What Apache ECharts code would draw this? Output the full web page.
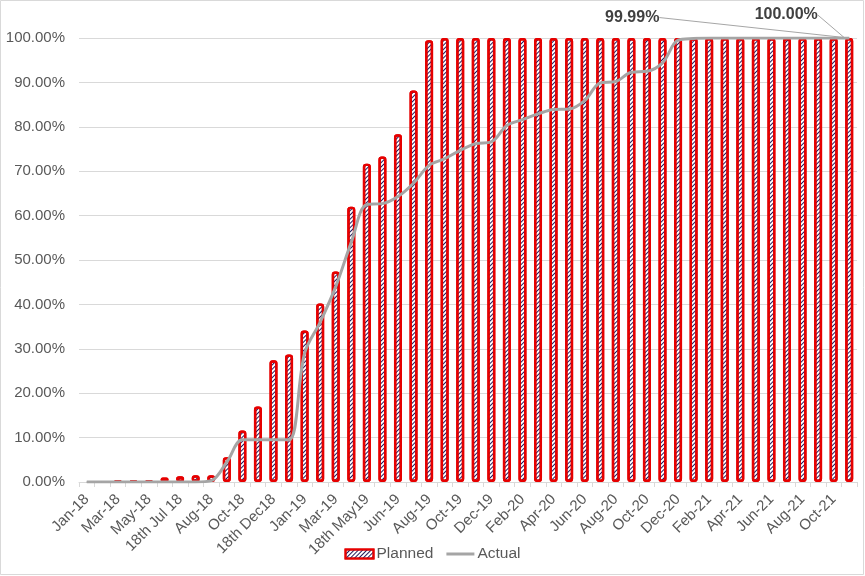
<!DOCTYPE html>
<html>
<head>
<meta charset="utf-8">
<script src="https://cdn.jsdelivr.net/npm/echarts@6/dist/echarts.min.js"></script>
<style>
html,body{margin:0;padding:0;background:#fff;}
#chart{width:865px;height:576px;}
</style>
</head>
<body>
<div id="chart"></div>
<script>
var categories = ["Jan-18","Feb-18","Mar-18","Apr-18","May-18","Jun-18","18th Jul 18","Jul-18","Aug-18","Sep-18","Oct-18","Nov-18","18th Dec18","Dec-18","Jan-19","Feb-19","Mar-19","Apr-19","18th May19","May-19","Jun-19","Jul-19","Aug-19","Sep-19","Oct-19","Nov-19","Dec-19","Jan-20","Feb-20","Mar-20","Apr-20","May-20","Jun-20","Jul-20","Aug-20","Sep-20","Oct-20","Nov-20","Dec-20","Jan-21","Feb-21","Mar-21","Apr-21","May-21","Jun-21","Jul-21","Aug-21","Sep-21","Oct-21","Nov-21"];
var planned = [null,null,0.3,0.3,0.3,1.0,1.3,1.5,1.5,5.6,11.6,17.0,27.4,28.7,34.1,40.2,47.4,62.0,71.7,73.3,78.3,88.2,99.5,
  100,100,100,100,100,100,100,100,100,100,100,100,100,100,100,100,100,100,100,100,100,100,100,100,100,100,100];
var actual = [0,0,0,0,0,0,0,0,0.3,4.5,9.5,9.5,9.5,9.5,29.0,36.0,44.0,54.0,62.5,62.7,64.3,67.3,71.3,72.8,74.7,76.2,76.6,80.3,81.6,82.9,83.9,84.0,85.9,89.9,90.2,92.3,92.5,94.4,99.5,99.9,
  99.99,99.99,99.99,99.99,99.99,99.99,99.99,99.99,99.99,99.99];
var yTicks = {min:0, max:100, interval:10};

var FONT = '"Liberation Sans", Arial, sans-serif';
var lastIdx = categories.length - 1;

function withLastLabel(arr){
  return arr.map(function(v,i){
    if(i === lastIdx){ return {value: v, label: {show: true}}; }
    return v;
  });
}

var chart = echarts.init(document.getElementById('chart'), null, {renderer:'canvas'});
chart.setOption({
  animation: false,
  backgroundColor: '#ffffff',
  textStyle: {fontFamily: FONT},
  grid: {left: 79, right: 8, top: 38, bottom: 94, containLabel: false},
  legend: {
    top: 541, left: 'center',
    itemWidth: 28, itemHeight: 9, itemGap: 13,
    textStyle: {fontFamily: FONT, fontSize: 15.5, color: '#595959', padding: [0,0,0,-2]},
    data: [
      {name: 'Planned', icon: 'rect'},
      {name: 'Actual', icon: 'path://M0,0 L28,0 L28,3 L0,3 Z', itemStyle: {color: '#A5A5A5'}}
    ]
  },
  xAxis: {
    type: 'category',
    data: categories,
    boundaryGap: true,
    axisLine: {lineStyle: {color: '#d9d9d9', width: 1}},
    axisTick: {show: true, interval: 0, length: 5, lineStyle: {color: '#d9d9d9'}},
    axisLabel: {interval: 1, rotate: 45, fontFamily: FONT, fontSize: 15, color: '#595959', margin: 15}
  },
  yAxis: {
    type: 'value',
    min: yTicks.min, max: yTicks.max, interval: yTicks.interval,
    axisLine: {show: false},
    axisTick: {show: false},
    splitLine: {lineStyle: {color: '#d9d9d9', width: 1}},
    axisLabel: {fontFamily: FONT, fontSize: 15, color: '#595959', margin: 14,
      formatter: function(v){ return v.toFixed(2) + '%'; }}
  },
  series: [
    {
      name: 'Planned',
      type: 'bar',
      data: withLastLabel(planned),
      barWidth: 8,
      itemStyle: {
        color: '#ffffff',
        borderColor: '#E60000',
        borderWidth: 2.4,
        borderRadius: 2,
        decal: {
          symbol: 'rect',
          symbolSize: 1,
          color: '#23195A',
          dashArrayX: [1, 0],
          dashArrayY: [1, 2],
          rotation: -Math.PI / 4
        }
      },
      label: {
        show: false, position: 'top',
        fontFamily: FONT, fontSize: 16, fontWeight: 'bold', color: '#404040',
        formatter: function(p){ return p.value.toFixed(2) + '%'; }
      },
      labelLine: {show: true, lineStyle: {color: '#a6a6a6', width: 1}},
      labelLayout: {dx: -63, dy: -10},
      z: 2
    },
    {
      name: 'Actual',
      type: 'line',
      data: withLastLabel(actual),
      smooth: 0.35,
      symbol: 'circle',
      symbolSize: 1,
      showSymbol: true,
      lineStyle: {color: '#A5A5A5', width: 3},
      itemStyle: {color: '#A5A5A5'},
      label: {
        show: false, position: 'top',
        fontFamily: FONT, fontSize: 16, fontWeight: 'bold', color: '#404040',
        formatter: function(p){ return p.value.toFixed(2) + '%'; }
      },
      labelLine: {show: true, lineStyle: {color: '#a6a6a6', width: 1}},
      labelLayout: {dx: -217, dy: -7},
      z: 3
    }
  ],
  graphic: [
    {type: 'rect', silent: true, z: 100,
      shape: {x: 0.5, y: 0.5, width: 863, height: 574},
      style: {fill: null, stroke: '#d9d9d9', lineWidth: 1}}
  ]
});
</script>
</body>
</html>
